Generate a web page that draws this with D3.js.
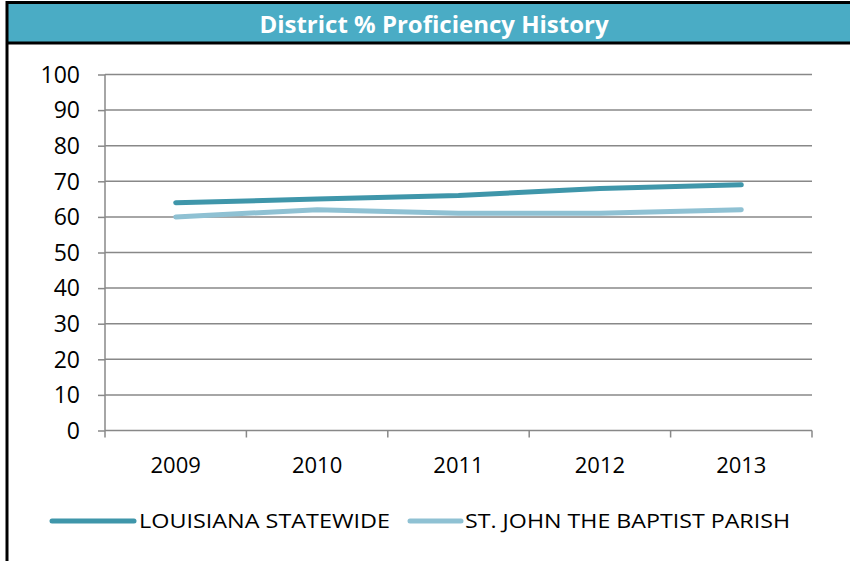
<!DOCTYPE html>
<html lang="en">
<head>
<meta charset="UTF-8">
<title>District % Proficiency History</title>
<script src="https://d3js.org/d3.v7.min.js"></script>
<style>
    body { margin: 0; background: #fff; }
    text { font-family: "Open Sans", sans-serif; fill: #000; }
    .title { fill: #fff; font-weight: bold; font-size: 24px; }
    .y-axis .tick text { font-size: 23px; }
    .x-axis .tick text { font-size: 22px; }
    .legend text { font-size: 20px; }
</style>
</head>
<body>
<div id="chart"></div>
<script>
// data
const years = ["2009", "2010", "2011", "2012", "2013"];
const statewide = [64, 65, 66, 68, 69];
const parish = [60, 62, 61, 61, 62];
const yTicks = [0, 10, 20, 30, 40, 50, 60, 70, 80, 90, 100];
const seriesNames = ["LOUISIANA STATEWIDE", "ST. JOHN THE BAPTIST PARISH"];
const seriesColors = ["#3f96aa", "#8fc1d3"];

const W = 850, H = 561;
const svg = d3.select("#chart").append("svg")
    .attr("width", W).attr("height", H);

// frame + title band
svg.append("rect").attr("x", 6).attr("y", 2).attr("width", W - 6).attr("height", 41)
    .attr("fill", "#4aacc5");
svg.append("line").attr("x1", 6).attr("x2", W).attr("y1", 2.5).attr("y2", 2.5)
    .attr("stroke", "#000").attr("stroke-width", 3);
svg.append("line").attr("x1", 6).attr("x2", W).attr("y1", 43).attr("y2", 43)
    .attr("stroke", "#000").attr("stroke-width", 3);
svg.append("line").attr("x1", 7).attr("x2", 7).attr("y1", 1).attr("y2", H)
    .attr("stroke", "#000").attr("stroke-width", 3);
svg.append("text").attr("class", "title")
    .attr("x", 434).attr("y", 33).attr("text-anchor", "middle")
    .text("District % Proficiency History");

const mLeft = 105, mRight = 812, mTop = 74.5, mBottom = 430.5;

const x = d3.scaleBand().domain(years).range([mLeft, mRight]);
const y = d3.scaleLinear().domain([0, 100]).range([mBottom, mTop]);

// gridlines
svg.append("g")
    .selectAll("line")
    .data(yTicks.filter(d => d > 0))
    .join("line")
    .attr("x1", mLeft).attr("x2", mRight)
    .attr("y1", d => y(d)).attr("y2", d => y(d))
    .attr("stroke", "#888").attr("stroke-width", 1.5);

// y axis
const yAxis = svg.append("g")
    .attr("class", "y-axis")
    .attr("transform", `translate(${mLeft},0)`)
    .call(d3.axisLeft(y).tickValues(yTicks).tickSize(7).tickPadding(18));
yAxis.selectAll("line, path").attr("stroke", "#888").attr("stroke-width", 1.5);
yAxis.select(".domain").attr("d", `M0,${mTop}V${mBottom}`);
yAxis.selectAll(".tick text").attr("fill", "#000").attr("dy", "0.34em");

// x axis (ticks between categories)
const xAxis = svg.append("g")
    .attr("class", "x-axis")
    .attr("transform", `translate(0,${mBottom})`);
xAxis.append("line").attr("x1", mLeft).attr("x2", mRight)
    .attr("stroke", "#888").attr("stroke-width", 1.5);
xAxis.selectAll(".xt")
    .data(years.concat(["end"]))
    .join("line")
    .attr("x1", (d, i) => mLeft + i * x.bandwidth())
    .attr("x2", (d, i) => mLeft + i * x.bandwidth())
    .attr("y1", 0).attr("y2", 7)
    .attr("stroke", "#888").attr("stroke-width", 1.5);
xAxis.selectAll(".tick")
    .data(years)
    .join("g").attr("class", "tick")
    .append("text")
    .attr("x", d => x(d) + x.bandwidth() / 2)
    .attr("y", 42)
    .attr("text-anchor", "middle")
    .text(d => d);

// lines
const line = d3.line()
    .x((d, i) => x(years[i]) + x.bandwidth() / 2)
    .y(d => y(d));

[parish, statewide].forEach((s, k) => {
    svg.append("path")
        .datum(s)
        .attr("d", line)
        .attr("fill", "none")
        .attr("stroke", seriesColors[1 - k])
        .attr("stroke-width", 5)
        .attr("stroke-linecap", "round")
        .attr("stroke-linejoin", "round");
});

// legend
const legend = svg.append("g").attr("class", "legend");
const legendItems = [
    { x1: 52, x2: 134, tx: 139, len: 251 },
    { x1: 410, x2: 461, tx: 465, len: 325 }
];
legendItems.forEach((it, i) => {
    legend.append("line")
        .attr("x1", it.x1).attr("x2", it.x2)
        .attr("y1", 521).attr("y2", 521)
        .attr("stroke", seriesColors[i]).attr("stroke-width", 5)
        .attr("stroke-linecap", "round");
    legend.append("text")
        .attr("x", it.tx).attr("y", 528)
        .attr("textLength", it.len)
        .attr("lengthAdjust", "spacingAndGlyphs")
        .text(seriesNames[i]);
});
</script>
</body>
</html>
